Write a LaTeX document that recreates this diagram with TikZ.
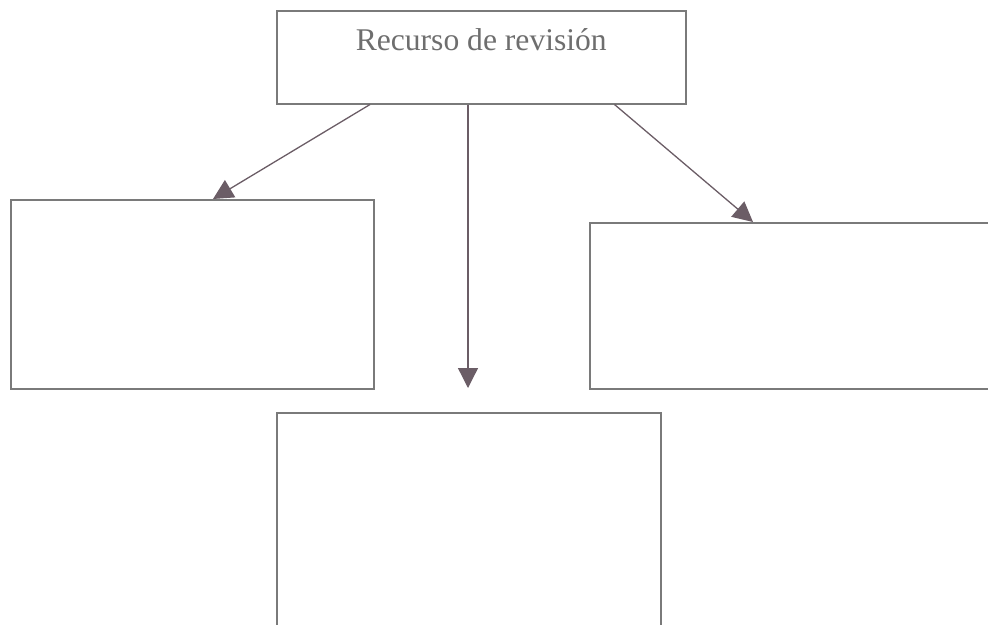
\documentclass[tikz,border=0pt]{standalone}
\usepackage{fontspec}
\setmainfont{Liberation Serif}
\usepackage{tikz}
\usetikzlibrary{positioning,arrows.meta,calc}
\definecolor{boxgray}{HTML}{7A7A7A}
\definecolor{arrowgray}{HTML}{6B5D66}
\definecolor{textgray}{HTML}{6E6E6E}

\begin{document}
\begin{tikzpicture}[
		x=1pt,y=-1pt,
		caja/.style={
			draw=boxgray,
			line width=1.5pt,
			rectangle,
			inner sep=0pt,
			anchor=north west
		},
		flecha/.style={
			draw=arrowgray,
			line width=1.3pt,
			-{Triangle[length=20pt,width=20pt]}
		}
		]
		\useasboundingbox (0,0) rectangle (988,624);
		\clip (0,0) rectangle (988,624);
		% Boxes
		\node[caja, minimum width=409pt, minimum height=93pt,
			text height=23pt, text depth=37pt, text=textgray,
			font=\fontsize{31.6}{38}\selectfont] (recurso) at (276,10) {Recurso de revisión};
		\node[caja, minimum width=363pt, minimum height=189pt] (izq) at (10,199) {};
		\node[caja, minimum width=430pt, minimum height=166pt] (der) at (589,222) {};
		\node[caja, minimum width=384pt, minimum height=240pt] (abajo) at (276,412) {};
		
		% Arrows
		\draw[flecha] ($(recurso.south west)+(94,0)$) -- ($(izq.north west)+(203,0)$);
		\draw[flecha] ($(recurso.south west)+(192,0)$) -- ($(abajo.north west)+(192,-24)$);
		\draw[flecha] ($(recurso.south east)+(-72,0)$) -- ($(der.north west)+(164,0)$);
	\end{tikzpicture}
\end{document}
